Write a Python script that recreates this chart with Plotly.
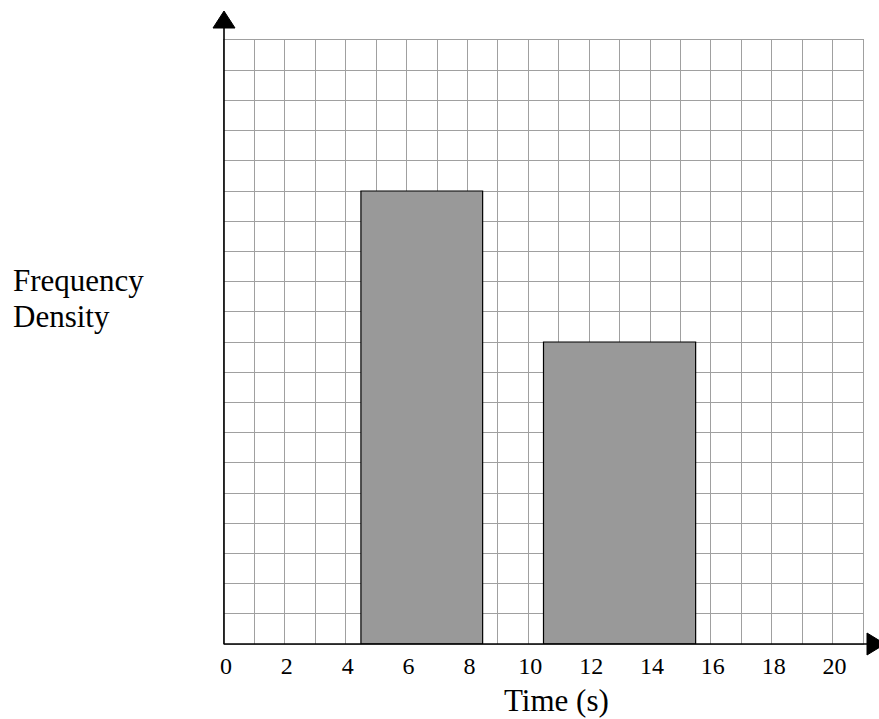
import plotly.graph_objects as go

# Histogram classes (time in seconds) and frequency densities
clase_inicio = [4.5, 10.5]
clase_fin = [8.5, 15.5]
densidad = [15, 10]

x_tick_labels = [0, 2, 4, 6, 8, 10, 12, 14, 16, 18, 20]

centros = [(a + b) / 2 for a, b in zip(clase_inicio, clase_fin)]
anchos = [b - a for a, b in zip(clase_inicio, clase_fin)]

fuente = 'Liberation Serif'
gris_grid = '#a0a0a0'

fig = go.Figure()

fig.add_trace(go.Bar(
    x=centros, y=densidad, width=anchos,
    marker=dict(color='#999999', line=dict(color='black', width=1.2)),
    showlegend=False,
))

fig.update_layout(
    width=879, height=719,
    margin=dict(l=224, r=16, t=40, b=75),
    plot_bgcolor='white', paper_bgcolor='white',
    font=dict(family=fuente, color='black'),
    xaxis=dict(
        range=[0, 21],
        tickvals=x_tick_labels,
        ticks='',
        ticklabelshift=2,
        tickfont=dict(size=24, family=fuente, color='black'),
        showgrid=True, gridcolor=gris_grid, gridwidth=1.3,
        minor=dict(tick0=0, dtick=1, showgrid=True, gridcolor=gris_grid, gridwidth=1.3),
        zeroline=False,
        showline=True, mirror=True, linecolor=gris_grid, linewidth=1.3,
        fixedrange=True,
    ),
    yaxis=dict(
        range=[0, 20],
        dtick=1,
        showticklabels=False,
        ticks='',
        showgrid=True, gridcolor=gris_grid, gridwidth=1.3,
        zeroline=False,
        showline=True, mirror=True, linecolor=gris_grid, linewidth=1.3,
        fixedrange=True,
    ),
)

# Ejes negros con flechas
fig.add_shape(type='line', xref='paper', yref='paper', x0=0, x1=0, y0=0, y1=1.02,
              line=dict(color='black', width=1.6), layer='above')
fig.add_shape(type='line', xref='paper', yref='paper', x0=0, x1=1.0063, y0=0, y1=0,
              line=dict(color='black', width=1.6), layer='above')
fig.add_shape(type='path', xref='paper', yref='paper',
              xsizemode='pixel', ysizemode='pixel', xanchor=0, yanchor=1,
              path='M -11,12 L 11,12 L 0,29 Z',
              fillcolor='black', line=dict(color='black', width=1), layer='above')
fig.add_shape(type='path', xref='paper', yref='paper',
              xsizemode='pixel', ysizemode='pixel', xanchor=1, yanchor=0,
              path='M 4,11 L 4,-11 L 22,0 Z',
              fillcolor='black', line=dict(color='black', width=1), layer='above')

# Etiqueta del eje y en dos líneas
fig.add_annotation(text='Frequency', xref='paper', yref='paper',
                   x=-0.333, y=0.6026, xanchor='left', yanchor='middle',
                   showarrow=False, font=dict(size=31, family=fuente, color='black'))
fig.add_annotation(text='Density', xref='paper', yref='paper',
                   x=-0.333, y=0.543, xanchor='left', yanchor='middle',
                   showarrow=False, font=dict(size=31, family=fuente, color='black'))
fig.add_annotation(text='Time (s)', xref='paper', yref='paper',
                   x=0.521, y=-0.093, xanchor='center', yanchor='middle',
                   showarrow=False, font=dict(size=31, family=fuente, color='black'))

# quitar el margen del body para que la figura ocupe toda la ventana
fig.write_html("out.html", config={'displayModeBar': False},
               post_script="document.body.style.margin='0';")
